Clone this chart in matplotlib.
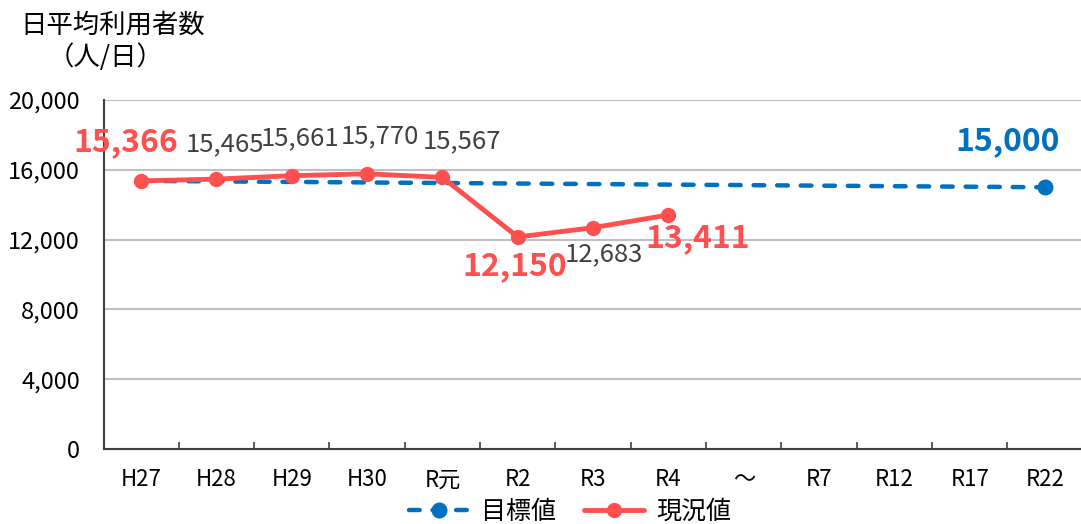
import matplotlib
matplotlib.use("Agg")
import matplotlib.pyplot as plt
from matplotlib.ticker import FuncFormatter, FixedLocator

plt.rcParams['font.family'] = ['Noto Sans CJK JP', 'DejaVu Sans']

# Fiscal-year categories on the horizontal axis
categories = ["H27", "H28", "H29", "H30", "R元", "R2", "R3", "R4", "～", "R7", "R12", "R17", "R22"]

# Actual daily average users (現況値), H27 to R4
actual_idx = [0, 1, 2, 3, 4, 5, 6, 7]
actual_vals = [15366, 15465, 15661, 15770, 15567, 12150, 12683, 13411]

# Target line (目標値): from the H27 base to the R22 goal
target_idx = [0, 12]
target_vals = [15366, 15000]

# Label offsets (points) and styles for each actual value
label_offsets = [(-11, 28), (6, 25), (6, 27), (9, 27), (14, 26), (-2, -21), (8, -19), (21, -17)]
label_styles = ["hi", "lo", "lo", "lo", "lo", "hi", "lo", "hi"]

RED = "#FF5050"
BLUE = "#0070C0"
GREY_TXT = "#404040"

fig = plt.figure(figsize=(10.81, 5.24), dpi=100)
ax = fig.add_axes([103.5 / 1081, 1 - 449 / 524, 979.2 / 1081, 349 / 524])

ax.set_xlim(-0.5, len(categories) - 0.5)
ax.set_ylim(0, 20000)

# horizontal gridlines
ax.set_yticks([0, 4000, 8000, 12000, 16000, 20000])
ax.yaxis.set_major_formatter(FuncFormatter(lambda v, p: f"{int(v):,}"))
ax.grid(axis="y", color="#C0C0C0", linewidth=1.5, zorder=0)
ax.set_axisbelow(True)

# category labels at centers, tick marks at boundaries
ax.set_xticks(range(len(categories)))
ax.set_xticklabels(categories)
ax.xaxis.set_minor_locator(FixedLocator([i + 0.5 for i in range(len(categories) - 1)]))
ax.tick_params(axis="x", which="major", length=0, pad=14, labelsize=16, colors="black")
ax.tick_params(axis="x", which="minor", direction="in", length=5, width=1.2, color="#404040")
ax.tick_params(axis="y", length=0, pad=17, labelsize=17)

for s in ["top", "right"]:
    ax.spines[s].set_visible(False)
for s in ["left", "bottom"]:
    ax.spines[s].set_color("#404040")
    ax.spines[s].set_linewidth(1.5)

# target line
ax.plot(target_idx, target_vals, color=BLUE, linewidth=3.2, linestyle=(0, (2.4, 2.9)),
        dash_capstyle="round", marker="o", markersize=10.5, markevery=[1],
        label="目標値", zorder=3, clip_on=False)

# actual values
ax.plot(actual_idx, actual_vals, color=RED, linewidth=3.5, marker="o", markersize=10,
        label="現況値", zorder=4, solid_capstyle="round")

for i, v, off, st in zip(actual_idx, actual_vals, label_offsets, label_styles):
    if st == "hi":
        ax.annotate(f"{v:,}", (i, v), xytext=off, textcoords="offset points",
                    ha="center", va="center", fontsize=23, fontweight="bold", color=RED)
    else:
        ax.annotate(f"{v:,}", (i, v), xytext=off, textcoords="offset points",
                    ha="center", va="center", fontsize=18.5, color=GREY_TXT)

ax.annotate(f"{target_vals[-1]:,}", (target_idx[-1], target_vals[-1]), xytext=(-27, 33),
            textcoords="offset points", ha="center", va="center",
            fontsize=23, fontweight="bold", color=BLUE)

fig.text(20 / 1081, 1 - 25 / 524, "日平均利用者数", ha="left", va="center", fontsize=19)
fig.text(106 / 1081, 1 - 57 / 524, "（人/日）", ha="center", va="center", fontsize=19)

leg = ax.legend(loc="center", bbox_to_anchor=(570 / 1081, 1 - 512 / 524),
                bbox_transform=fig.transFigure, ncol=2, frameon=False,
                fontsize=18, handlelength=2.4, columnspacing=1.1, handletextpad=0.5)

fig.savefig("out.png", dpi=100)
